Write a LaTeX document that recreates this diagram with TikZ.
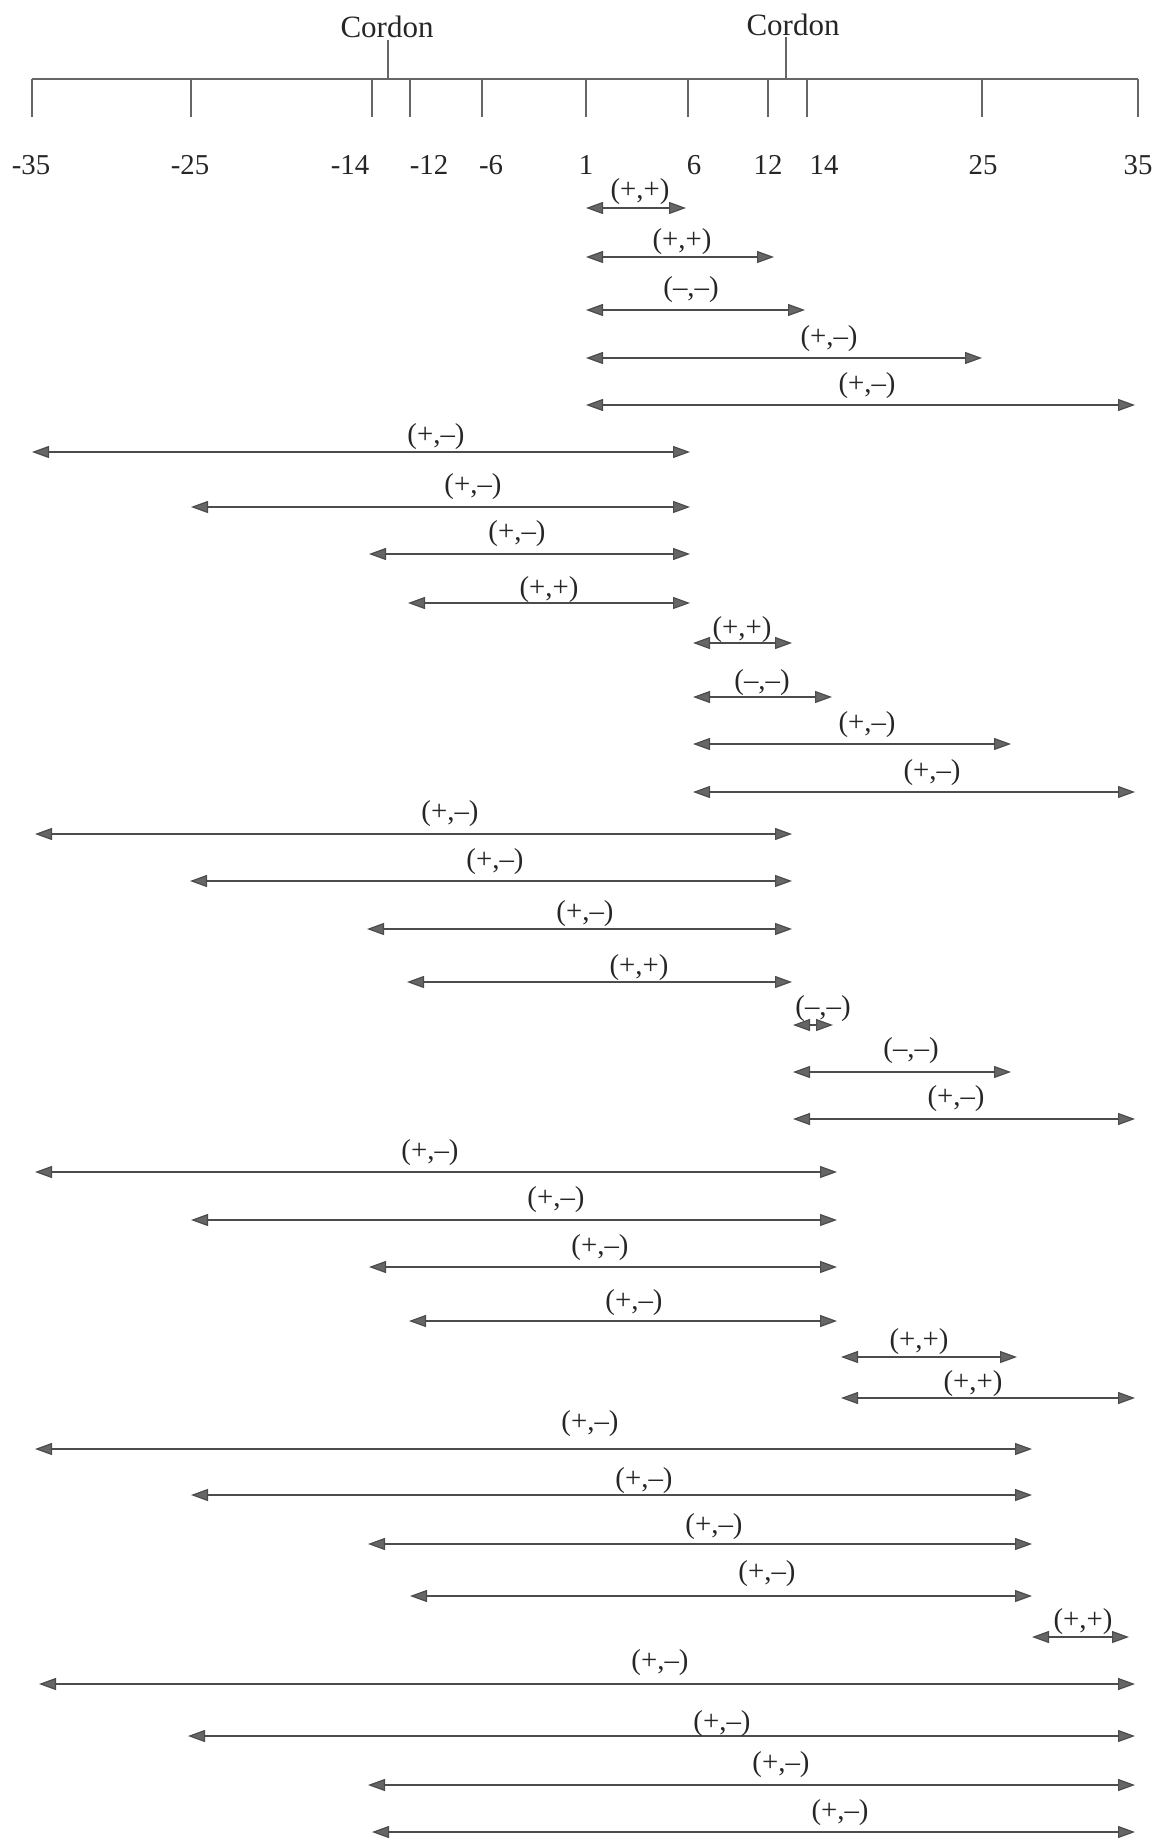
\documentclass[tikz,border=0pt]{standalone}
\usepackage{fontspec}
\setmainfont{Liberation Serif}
\usetikzlibrary{arrows.meta}

\begin{document}
\begin{tikzpicture}[x=0.5pt, y=-0.5pt,
		axis/.style={draw=black!60, line width=0.6pt},
		span/.style={draw=black!70, line width=0.6pt, {Triangle[length=8.5pt,width=6pt,fill=black!60]}-{Triangle[length=8.5pt,width=6pt,fill=black!60]}},
		num/.style={font=\fontsize{14.4}{17}\selectfont, text=black!85, inner sep=0pt},
		lab/.style={font=\fontsize{14.4}{17}\selectfont, text=black!85, inner sep=0pt}]
		\useasboundingbox (0,0) rectangle (1160,1840);
		\begin{scope}
		\draw[axis] (32,79) -- (1138,79);
		\draw[axis] (32,79) -- (32,117);
		\draw[axis] (191,79) -- (191,117);
		\draw[axis] (372,79) -- (372,117);
		\draw[axis] (410,79) -- (410,117);
		\draw[axis] (482,79) -- (482,117);
		\draw[axis] (586,79) -- (586,117);
		\draw[axis] (688,79) -- (688,117);
		\draw[axis] (768,79) -- (768,117);
		\draw[axis] (807,79) -- (807,117);
		\draw[axis] (982,79) -- (982,117);
		\draw[axis] (1138,79) -- (1138,117);
		\draw[axis] (388,40) -- (388,79);
		\draw[axis] (786,37) -- (786,79);
		\node[num, font=\fontsize{15.5}{18}\selectfont] (c1) at (387,27) {Cordon};
		\node[num, font=\fontsize{15.5}{18}\selectfont] (c2) at (793,25) {Cordon};
		\node[num] (t1) at (31,165) {-35};
		\node[num] (t2) at (190,165) {-25};
		\node[num] (t3) at (350,165) {-14};
		\node[num] (t4) at (429,165) {-12};
		\node[num] (t5) at (491,165) {-6};
		\node[num] (t6) at (586,165) {1};
		\node[num] (t7) at (694,165) {6};
		\node[num] (t8) at (768,165) {12};
		\node[num] (t9) at (824,165) {14};
		\node[num] (t10) at (983,165) {25};
		\node[num] (t11) at (1138,165) {35};
		\draw[span] (586,208) -- (686,208);
		\node[lab] (a1) at (640,192) {(+,+)};
		\draw[span] (586,257) -- (774,257);
		\node[lab] (a2) at (682,242) {(+,+)};
		\draw[span] (586,310) -- (805,310);
		\node[lab] (a3) at (691,290) {(–,–)};
		\draw[span] (586,358) -- (982,358);
		\node[lab] (a4) at (829,339) {(+,–)};
		\draw[span] (586,405) -- (1135,405);
		\node[lab] (a5) at (867,386) {(+,–)};
		\draw[span] (32,452) -- (690,452);
		\node[lab] (a6) at (436,437) {(+,–)};
		\draw[span] (191,507) -- (690,507);
		\node[lab] (a7) at (473,487) {(+,–)};
		\draw[span] (369,554) -- (690,554);
		\node[lab] (a8) at (517,534) {(+,–)};
		\draw[span] (408,603) -- (690,603);
		\node[lab] (a9) at (549,590) {(+,+)};
		\draw[span] (693,643) -- (792,643);
		\node[lab] (a10) at (742,630) {(+,+)};
		\draw[span] (693,697) -- (832,697);
		\node[lab] (a11) at (762,683) {(–,–)};
		\draw[span] (693,744) -- (1011,744);
		\node[lab] (a12) at (867,725) {(+,–)};
		\draw[span] (693,792) -- (1135,792);
		\node[lab] (a13) at (932,773) {(+,–)};
		\draw[span] (35,834) -- (792,834);
		\node[lab] (a14) at (450,814) {(+,–)};
		\draw[span] (190,881) -- (792,881);
		\node[lab] (a15) at (495,862) {(+,–)};
		\draw[span] (367,929) -- (792,929);
		\node[lab] (a16) at (585,914) {(+,–)};
		\draw[span] (407,982) -- (792,982);
		\node[lab] (a17) at (639,968) {(+,+)};
		\draw[span] (793,1025) -- (833,1025);
		\node[lab] (a18) at (823,1009) {(–,–)};
		\draw[span] (793,1072) -- (1011,1072);
		\node[lab] (a19) at (911,1051) {(–,–)};
		\draw[span] (793,1119) -- (1135,1119);
		\node[lab] (a20) at (956,1099) {(+,–)};
		\draw[span] (35,1172) -- (837,1172);
		\node[lab] (a21) at (430,1153) {(+,–)};
		\draw[span] (191,1220) -- (837,1220);
		\node[lab] (a22) at (556,1200) {(+,–)};
		\draw[span] (369,1267) -- (837,1267);
		\node[lab] (a23) at (600,1248) {(+,–)};
		\draw[span] (409,1321) -- (837,1321);
		\node[lab] (a24) at (634,1303) {(+,–)};
		\draw[span] (841,1357) -- (1017,1357);
		\node[lab] (a25) at (919,1342) {(+,+)};
		\draw[span] (841,1398) -- (1135,1398);
		\node[lab] (a26) at (973,1384) {(+,+)};
		\draw[span] (35,1449) -- (1032,1449);
		\node[lab] (a27) at (590,1424) {(+,–)};
		\draw[span] (191,1495) -- (1032,1495);
		\node[lab] (a28) at (644,1481) {(+,–)};
		\draw[span] (368,1544) -- (1032,1544);
		\node[lab] (a29) at (714,1527) {(+,–)};
		\draw[span] (410,1596) -- (1032,1596);
		\node[lab] (a30) at (767,1574) {(+,–)};
		\draw[span] (1032,1637) -- (1129,1637);
		\node[lab] (a31) at (1083,1622) {(+,+)};
		\draw[span] (39,1684) -- (1135,1684);
		\node[lab] (a32) at (660,1663) {(+,–)};
		\draw[span] (188,1736) -- (1135,1736);
		\node[lab] (a33) at (722,1724) {(+,–)};
		\draw[span] (368,1785) -- (1135,1785);
		\node[lab] (a34) at (781,1765) {(+,–)};
		\draw[span] (372,1832) -- (1135,1832);
		\node[lab] (a35) at (840,1813) {(+,–)};
		\end{scope}
		\end{tikzpicture}
\end{document}
